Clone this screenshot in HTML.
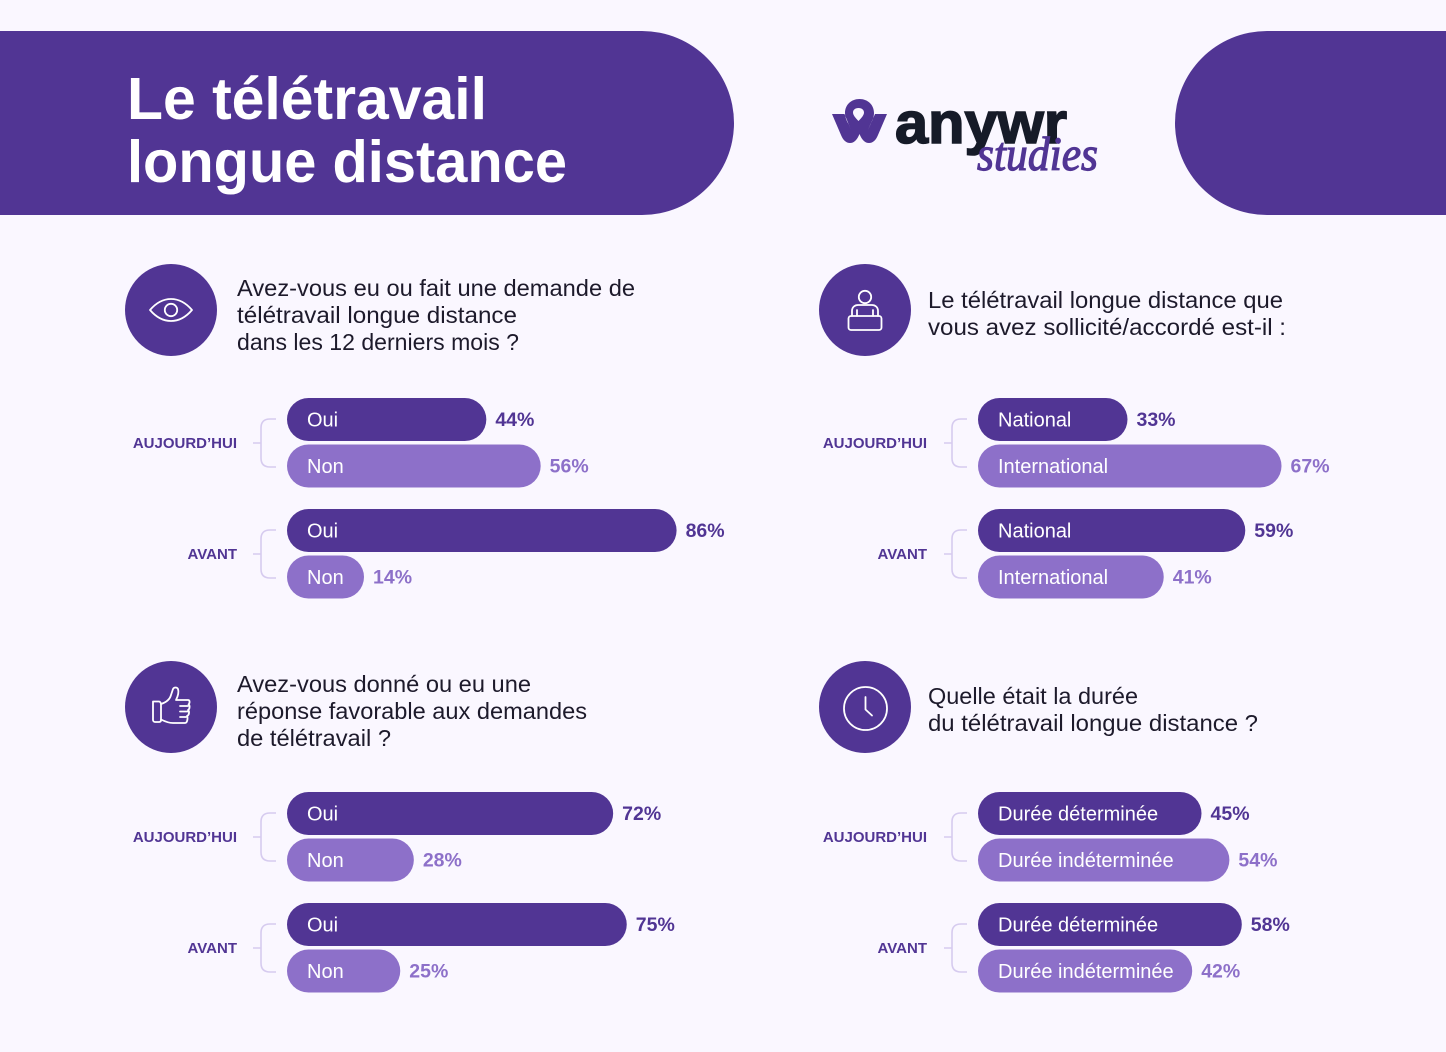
<!DOCTYPE html>
<html lang="fr">
<head>
<meta charset="utf-8">
<title>Le télétravail longue distance</title>
<style>
html,body{margin:0;padding:0;background:#faf7ff;}
svg{display:block;font-family:"Liberation Sans",sans-serif;}
.q{font-size:23px;fill:#1d1a2b;}
</style>
</head>
<body>
<svg id="chart" xmlns="http://www.w3.org/2000/svg" width="1446" height="1052" viewBox="0 0 1446 1052">
  <rect width="1446" height="1052" fill="#faf7ff"/>
  <path d="M0 31H642A92 92 0 0 1 642 215H0Z" fill="#513594"/>
  <path d="M1446 31H1267A92 92 0 0 0 1267 215H1446Z" fill="#513594"/>
  <g fill="#fff" font-weight="700" font-size="59">
    <text x="127" y="119" textLength="360" lengthAdjust="spacingAndGlyphs">Le télétravail</text>
    <text x="127" y="182" textLength="440" lengthAdjust="spacingAndGlyphs">longue distance</text>
  </g>
  <g>
    <path fill="#513594" fill-rule="evenodd" d="M832 114H844.500L851 130 848.500 124C846 120 845 116 845 113 845 105 851 99 859.500 99 868 99 874 105 874 113 874 116 873 120 870.500 124L868 130 875 114H887L878 135C876 140 873 143 869 143 865 143 862 140 859.500 134 857 140 854 143 850 143 846 143 843 140 841 135ZM858.500 108C855 108 853 110 853 112.500 853 115 855.500 118 858.500 121 861.500 118 864 115 864 112.500 864 110 862 108 858.500 108Z"/>
    <text x="895" y="143" font-size="58" font-weight="700" fill="#161b28" stroke="#161b28" stroke-width="1.6" textLength="172" lengthAdjust="spacingAndGlyphs">anywr</text>
    <text x="977" y="170" font-family="'Liberation Serif',serif" font-style="italic" font-size="48" fill="#513594" stroke="#513594" stroke-width="1.2" textLength="121" lengthAdjust="spacingAndGlyphs">studies</text>
  </g>

  <g>
    <circle cx="171" cy="310" r="46" fill="#513594"/>
    <g fill="none" stroke="#fff" stroke-width="1.8" stroke-linejoin="round">
      <path d="M150 310C156 303 163 299 171 299S186 303 192 310C186 317 179 321 171 321S156 317 150 310Z"/>
      <circle cx="171" cy="310" r="6.2"/>
    </g>
    <text class="q" x="237" y="296" textLength="398" lengthAdjust="spacingAndGlyphs">Avez-vous eu ou fait une demande de</text>
    <text class="q" x="237" y="323" textLength="280" lengthAdjust="spacingAndGlyphs">télétravail longue distance</text>
    <text class="q" x="237" y="350" textLength="282" lengthAdjust="spacingAndGlyphs">dans les 12 derniers mois ?</text>
  </g>
  <g>
    <circle cx="865" cy="310" r="46" fill="#513594"/>
    <g fill="none" stroke="#fff" stroke-width="1.8" stroke-linejoin="round" stroke-linecap="round">
      <circle cx="865" cy="297" r="6.2"/>
      <path d="M852 316V311C852 307 855 305 858 305H872C875 305 878 307 878 311V316"/>
      <path d="M857 310V316M873 310V316"/>
      <rect x="848.500" y="316" width="33" height="14" rx="2.500"/>
    </g>
    <text class="q" x="928" y="308" textLength="355" lengthAdjust="spacingAndGlyphs">Le télétravail longue distance que</text>
    <text class="q" x="928" y="335" textLength="358" lengthAdjust="spacingAndGlyphs">vous avez sollicité/accordé est-il :</text>
  </g>
  <g>
    <circle cx="171" cy="707" r="46" fill="#513594"/>
    <g fill="none" stroke="#fff" stroke-width="1.8" stroke-linejoin="round" stroke-linecap="round">
      <path d="M153 701.500H159C160 701.500 161 703 161 704V720C161 721.500 160 722 159 722H155C154 722 153 721 153 720Z"/>
      <path d="M161 704C167 702 170 699 171 695L173 689C174 687 177 687 178 689 179 692 178 696 176 700H188C190 700 190 703 188.500 704.500 190 705 190 709 188 710 189.500 711 189.500 715 187 716 188 717.500 187.500 723 185 723H173C169 723 166 722 161 719.500"/>
      <path d="M180 706H188M180 711.500H188M180 717H186"/>
    </g>
    <text class="q" x="237" y="692" textLength="294" lengthAdjust="spacingAndGlyphs">Avez-vous donné ou eu une</text>
    <text class="q" x="237" y="719" textLength="350" lengthAdjust="spacingAndGlyphs">réponse favorable aux demandes</text>
    <text class="q" x="237" y="746" textLength="154" lengthAdjust="spacingAndGlyphs">de télétravail ?</text>
  </g>
  <g>
    <circle cx="865" cy="707" r="46" fill="#513594"/>
    <g fill="none" stroke="#fff" stroke-width="1.8" stroke-linecap="round" stroke-linejoin="round">
      <circle cx="865.500" cy="708.500" r="21.500"/>
      <path d="M865.500 697V709.500L872 715.500"/>
    </g>
    <text class="q" x="928" y="704" textLength="210" lengthAdjust="spacingAndGlyphs">Quelle était la durée</text>
    <text class="q" x="928" y="731" textLength="330" lengthAdjust="spacingAndGlyphs">du télétravail longue distance ?</text>
  </g>
  <g id="bars"></g>
</svg>
<script>
// Period labels
const periods = ["AUJOURD’HUI", "AVANT"];

// Chart 1: demande de télétravail
const chart1Categories = ["Oui", "Non"];
const chart1Values = [[44, 56], [86, 14]];

// Chart 2: national / international
const chart2Categories = ["National", "International"];
const chart2Values = [[33, 67], [59, 41]];

// Chart 3: réponse favorable
const chart3Categories = ["Oui", "Non"];
const chart3Values = [[72, 28], [75, 25]];

// Chart 4: durée
const chart4Categories = ["Durée déterminée", "Durée indéterminée"];
const chart4Values = [[45, 54], [58, 42]];

const NS = "http://www.w3.org/2000/svg";
const DARK = "#513594";
const LIGHT = "#8d70c9";
const BRACKET = "#d6cbef";
const BAR_H = 43;
const root = document.getElementById("bars");

// Axis functions: percent -> bar length in pixels
function standardAxis(v) {
  return Math.max(4.53 * v, 77);
}
function durationAxis(v) {
  return 84 + 3.1 * v;
}

function make(tag, attrs, parent) {
  const el = document.createElementNS(NS, tag);
  for (const k in attrs) el.setAttribute(k, attrs[k]);
  parent.appendChild(el);
  return el;
}

function drawChart(id, originX, labelX, top, categories, values, axis) {
  const chart = make("g", {}, root);
  
  
  values.forEach(function (group, g) {
    const groupTop = top + g * 111;
    const midY = groupTop + 45;

    const period = make("text", {
      x: labelX, y: midY + 5, "text-anchor": "end",
      "font-size": 15, "font-weight": 700, fill: DARK
    }, chart);
    
    
    period.textContent = periods[g];

    const bracket = make("path", {
      d: "M" + (originX - 34) + " " + midY + "H" + (originX - 26) +
         "M" + (originX - 11) + " " + (midY - 24) + "H" + (originX - 17) +
         "Q" + (originX - 26) + " " + (midY - 24) + " " + (originX - 26) + " " + (midY - 15) +
         "V" + (midY + 15) +
         "Q" + (originX - 26) + " " + (midY + 24) + " " + (originX - 17) + " " + (midY + 24) +
         "H" + (originX - 11),
      fill: "none", stroke: BRACKET, "stroke-width": 1.6
    }, chart);
    
    

    group.forEach(function (v, i) {
      const y = groupTop + i * 46.5;
      const w = axis(v);
      const color = i === 0 ? DARK : LIGHT;

      const bar = make("rect", {
        x: originX, y: y, width: w, height: BAR_H,
        rx: BAR_H / 2, ry: BAR_H / 2, fill: color
      }, chart);
      
      

      const cat = make("text", {
        x: originX + 20, y: y + 28.5, "font-size": 20, fill: "#fff"
      }, chart);
      
      
      cat.textContent = categories[i];

      const val = make("text", {
        x: originX + w + 9, y: y + 28, "font-size": 19.5,
        "font-weight": 700, fill: color
      }, chart);
      
      
      val.textContent = v + "%";
    });
  });
}

drawChart("chart-1", 287, 237, 398, chart1Categories, chart1Values, standardAxis);
drawChart("chart-2", 978, 927, 398, chart2Categories, chart2Values, standardAxis);
drawChart("chart-3", 287, 237, 792, chart3Categories, chart3Values, standardAxis);
drawChart("chart-4", 978, 927, 792, chart4Categories, chart4Values, durationAxis);
</script>
</body>
</html>
